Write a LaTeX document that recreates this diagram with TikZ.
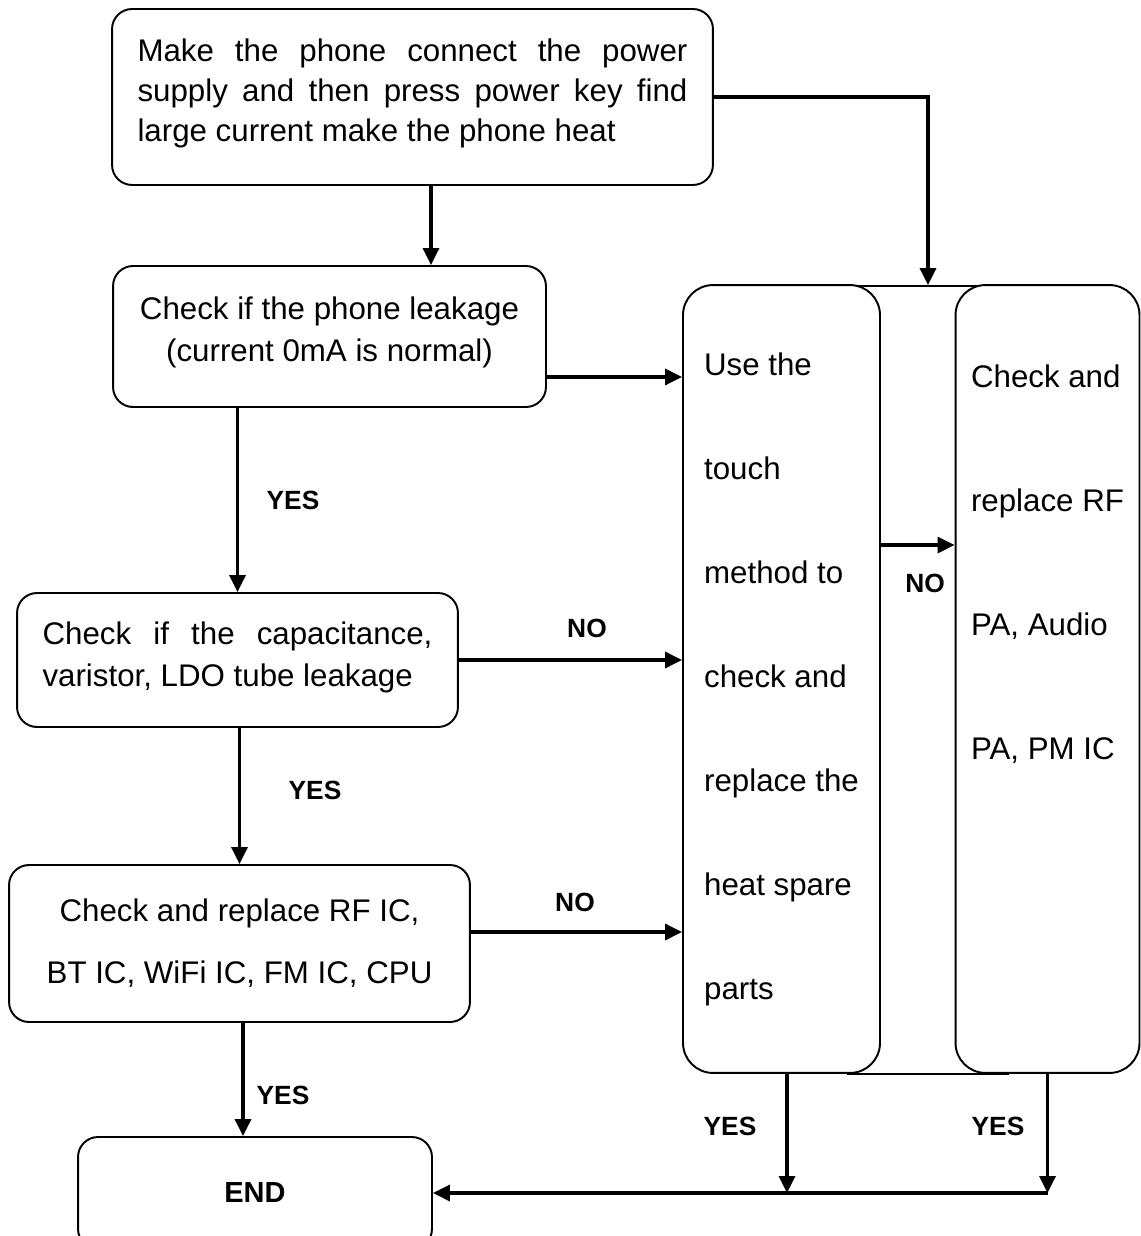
\documentclass[tikz,border=0pt]{standalone}
\usepackage{fontspec}
\setmainfont{Liberation Sans}
\usetikzlibrary{arrows.meta, positioning}

\begin{document}
\begin{tikzpicture}[x=0.02cm, y=-0.02cm,
    >={Triangle[length=0.34cm, width=0.32cm]},
    box/.style={draw, line width=1.1pt, fill=white, rounded corners=0.4cm, inner sep=0pt,
        font=\fontsize{17.8}{23.9}\selectfont},
    tall/.style={box, rounded corners=0.6cm, minimum width=3.94cm, minimum height=15.76cm, align=left},
    flow/.style={->, line width=1.9pt},
    tag/.style={font=\fontsize{15}{18}\selectfont\bfseries, inner sep=0pt}]

    \useasboundingbox (0,0) rectangle (1140,1236);

    % frame joining the two repair boxes
    \node[draw, line width=1.1pt, minimum width=3.2cm, minimum height=15.76cm] (pair) at (928,680) {};

    % left column
    \node[box, minimum width=12.02cm, minimum height=3.52cm, align=left, font=\fontsize{17.8}{22.8}\selectfont] (start) at (412.5,97)
        {\makebox[11cm][s]{Make the phone connect the power}\\
         \makebox[11cm][s]{supply and then press power key find}\\
         large current make the phone heat\\[-0.52cm]{}};
    \node[box, minimum width=8.66cm, minimum height=2.82cm, align=center] (leak) at (329.5,336.5)
        {Check if the phone leakage\\(current 0mA is normal)\\[-0.56cm]{}};
    \node[box, minimum width=8.82cm, minimum height=2.68cm, align=left] (parts) at (237.5,660)
        {\makebox[7.8cm][s]{Check if the capacitance,}\\varistor, LDO tube leakage\\[-0.6cm]{}};
    \node[box, minimum width=9.22cm, minimum height=3.14cm, align=center, font=\fontsize{17.8}{35.3}\selectfont] (ics) at (239.5,943.5)
        {Check and replace RF IC,\\BT IC, WiFi IC, FM IC, CPU};
    \node[box, minimum width=7.08cm, minimum height=2.24cm, font=\fontsize{16.5}{20}\selectfont\bfseries] (finish) at (255,1193) {END};

    % right column
    \node[tall, font=\fontsize{17.8}{59.2}\selectfont] (touch) at (781.5,679)
        {Use the\\touch\\method to\\check and\\replace the\\heat spare\\parts};
    \node[tall, minimum width=3.68cm, font=\fontsize{17.8}{70.6}\selectfont] (rfpa) at (1047.5,679)
        {Check and\\replace RF\\PA, Audio\\PA, PM IC\\[2.2cm]{}};

    % connectors
    \draw[flow] (start.east) -| (pair.north);
    \draw[flow] ([xshift=0.37cm]start.south) -- ([xshift=0.37cm]start.south |- leak.north);
    \draw[flow] ([yshift=-0.81cm]leak.east) -- ([yshift=-0.81cm]leak.east -| touch.west);
    \draw[flow] (leak.south -| parts.north) -- (parts.north);
    \draw[flow] (parts.east) -- (parts.east -| touch.west);
    \draw[flow] (parts.south -| ics.north) -- (ics.north);
    \draw[flow] ([yshift=0.23cm]ics.east) -- ([yshift=0.23cm]ics.east -| touch.west);
    \draw[flow] ([xshift=0.07cm]ics.south) -- ([xshift=0.07cm]ics.south |- finish.north);
    \draw[flow] ([yshift=2.68cm]touch.east) -- ([yshift=2.68cm]touch.east -| rfpa.west);
    \draw[flow] ([xshift=0.11cm]touch.south) -- ([xshift=0.11cm]touch.south |- finish.east);
    \draw[flow] (rfpa.south) -- (rfpa.south |- finish.east);
    \draw[flow] (rfpa.south |- finish.east) -- (finish.east);

    % branch labels
    \node[tag] (yes1) at (293,500) {YES};
    \node[tag] (no1) at (587,628) {NO};
    \node[tag] (yes2) at (315,790) {YES};
    \node[tag] (no2) at (575,902) {NO};
    \node[tag] (yes3) at (283,1095) {YES};
    \node[tag] (no3) at (925,583) {NO};
    \node[tag] (yes4) at (730,1126) {YES};
    \node[tag] (yes5) at (998,1126) {YES};
\end{tikzpicture}
\end{document}
